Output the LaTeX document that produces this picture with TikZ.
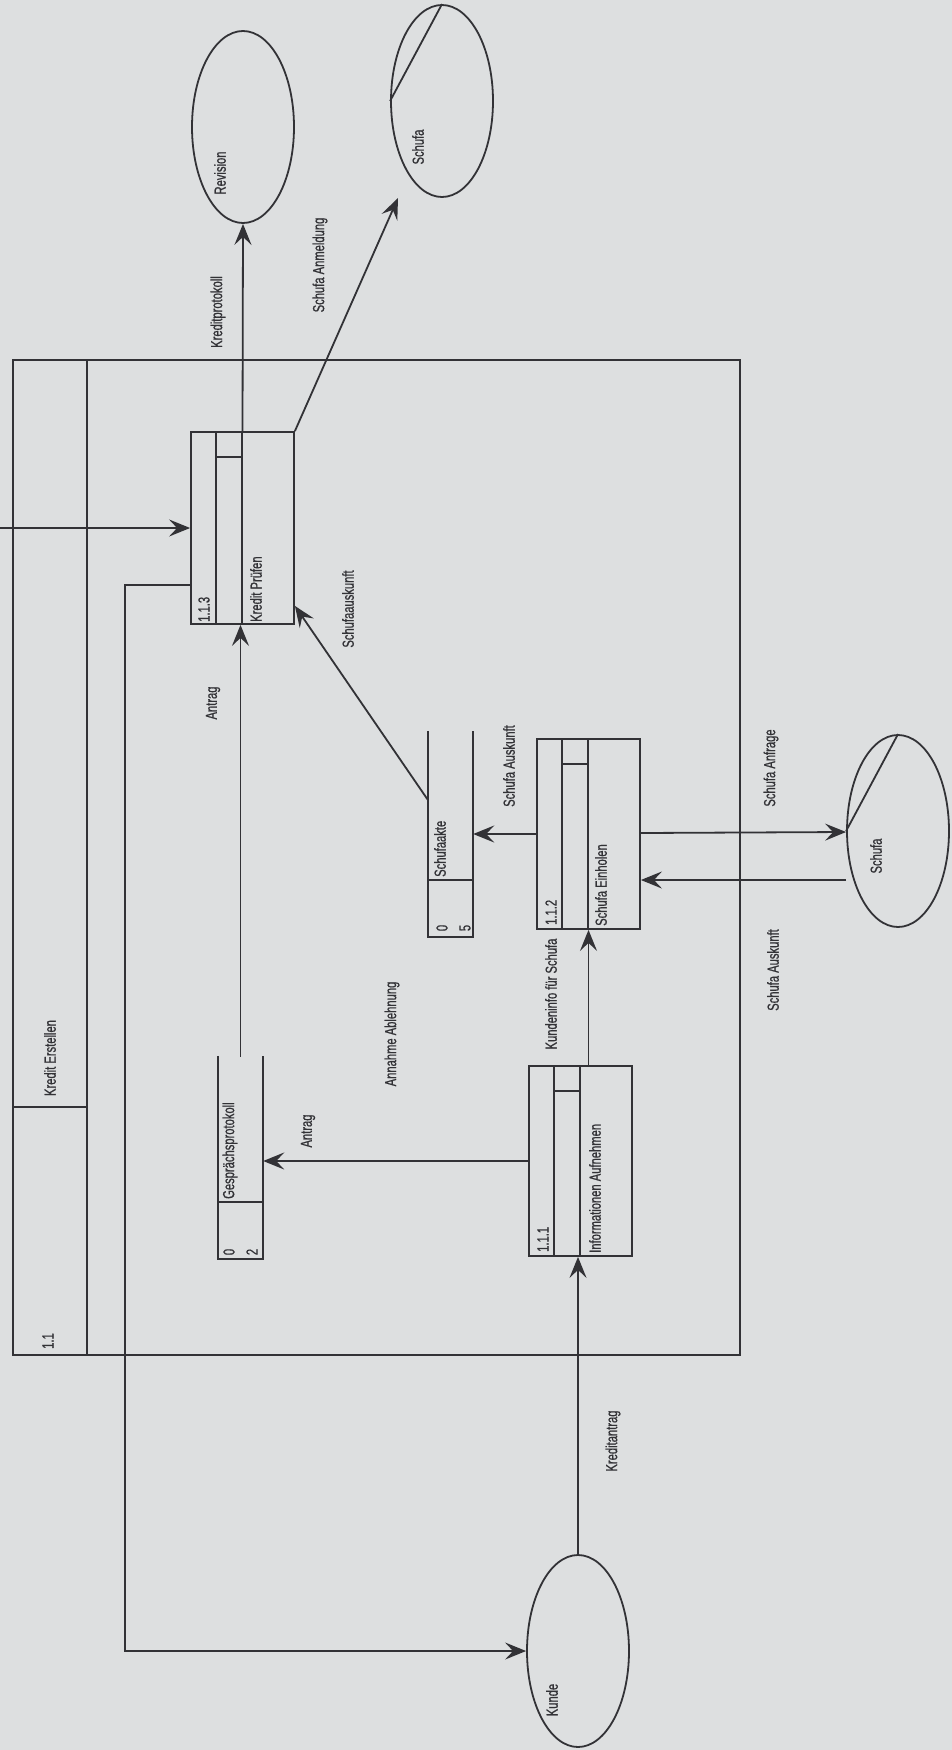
\documentclass[tikz,border=0pt]{standalone}
\usepackage{fontspec}
\setmainfont{Liberation Sans}[FakeStretch=0.7,FakeBold=0.8]
\usetikzlibrary{arrows.meta,calc,shapes.geometric}
\definecolor{paper}{RGB}{221,223,224}
\definecolor{ink}{RGB}{50,50,54}
\begin{document}
\begin{tikzpicture}[x=1pt,y=-1pt,
  line/.style={draw=ink, line width=1.8pt},
  flow/.style={line, -{Stealth[length=21pt,width=17pt,inset=8pt]}},
  lbl/.style={rotate=90, text=ink, font=\fontsize{16}{18}\selectfont, inner sep=0pt},
  proc/.style={line, minimum width=103pt, minimum height=190pt, inner sep=0pt},
  ent/.style={line, ellipse, minimum width=102pt, minimum height=192pt, inner sep=0pt},
  store/.style={minimum width=45pt, inner sep=0pt}
]
\fill[paper] (0,0) rectangle (952,1750);
\useasboundingbox (0,0) rectangle (952,1750);

% ---------- outer process 1.1 ----------
\node[line, minimum width=727pt, minimum height=995pt, inner sep=0pt] (p11) at (376.5,857.5) {};
\draw[line] ($(p11.north west)+(75,0)$) -- ($(p11.south west)+(75,0)$);
\draw[line] ($(p11.north west)+(0,748)$) -- ++(75,0);
\node[lbl] (t11) at (48,1341) {1.1};
\node[lbl] (tke) at (50,1058) {Kredit Erstellen};

% ---------- processes ----------
\node[proc, minimum height=192pt] (p113) at (242.5,528) {};
\node[proc] (p112) at (588.5,834) {};
\node[proc] (p111) at (580.5,1161) {};
\foreach \p in {p113,p112,p111}{
  \draw[line] ($(\p.north west)+(26,0)$) -- ($(\p.south west)+(26,0)$);
  \draw[line] ($(\p.north west)+(52,0)$) -- ($(\p.south west)+(52,0)$);
  \draw[line] ($(\p.north west)+(26,26)$) -- ($(\p.north west)+(52,26)$);
}
\node[lbl, anchor=west] (n113) at (204,622) {1.1.3};
\node[lbl, anchor=west] (m113) at (256,622) {Kredit Prüfen};
\node[lbl, anchor=west] (n112) at (551,925) {1.1.2};
\node[lbl, anchor=west] (m112) at (601,926) {Schufa Einholen};
\node[lbl, anchor=west] (n111) at (543,1252) {1.1.1};
\node[lbl, anchor=west] (m111) at (595,1253) {Informationen Aufnehmen};

% ---------- data stores ----------
\node[store, minimum height=206pt] (s5) at (450.5,834) {};
\node[store, minimum height=203pt] (s2) at (240.5,1157.5) {};
\foreach \s in {s5,s2}{
  \draw[line] (\s.north west) -- (\s.south west) -- (\s.south east) -- (\s.north east);
  \draw[line] ($(\s.south west)+(0,-57)$) -- ($(\s.south east)+(0,-57)$);
}
\node[lbl, anchor=west] (l5) at (440,877) {Schufaakte};
\node[lbl] (d5a) at (442,928) {0};
\node[lbl] (d5b) at (465,928) {5};
\node[lbl, anchor=west] (l2) at (230,1199) {Gesprächsprotokoll};
\node[lbl] (d2a) at (229,1252) {0};
\node[lbl] (d2b) at (252,1252) {2};

% ---------- external entities ----------
\node[ent] (rev) at (243,127) {};
\node[ent] (sch1) at (442,101) {};
\node[ent] (sch2) at (898,831) {};
\node[ent] (kun) at (578,1651) {};
\draw[line] (sch1.north) -- (sch1.west);
\draw[line] (sch2.north) -- (sch2.west);
\node[lbl] (trev) at (220,173) {Revision};
\node[lbl] (tsch1) at (418,147) {Schufa};
\node[lbl] (tsch2) at (876,856) {Schufa};
\node[lbl] (tkun) at (552,1700) {Kunde};

% ---------- data flows ----------
\coordinate (in) at (0,528);
\coordinate (sa) at (398,198);
\coordinate (sk) at ($(s5.north west)+(0,69)$);

\draw[flow] (in) -- (p113.west);
\draw[flow] (p113.north) -- (rev.south);
\draw[flow] (p113.north east) -- (sa);
\draw[flow] (sk) -- ($(p113.south east)+(0,-19)$);
\draw[flow] ($(s2.north)+(0,1)$) -- (s2.north |- p113.south);
\draw[flow] ($(p113.south west)+(0,-40)$) -- ++(-65,0) |- (kun.west);
\draw[flow] (p112.west) -- (p112.west -| s5.east);
\draw[flow] ($(p112.east)+(0,-1)$) -- ($(sch2.west)+(0,1)$);
\draw[flow] ($(sch2.west)+(0,49)$) -- ($(p112.east)+(0,46)$);
\draw[flow] (p111.north -| p112.south) -- (p112.south);
\draw[flow] (p111.west) -- (p111.west -| s2.east);
\draw[flow] (kun.north) -- (kun.north |- p111.south);

% ---------- flow labels ----------
\node[lbl] (f1) at (218,312) {Kreditprotokoll};
\node[lbl] (f2) at (320,265) {Schufa Anmeldung};
\node[lbl] (f3) at (213,703) {Antrag};
\node[lbl] (f4) at (348,609) {Schufaauskunft};
\node[lbl] (f5) at (509,766) {Schufa Auskunft};
\node[lbl] (f6) at (771,768) {Schufa Anfrage};
\node[lbl] (f7) at (773,970) {Schufa Auskunft};
\node[lbl] (f8) at (551,994) {Kundeninfo für Schufa};
\node[lbl] (f9) at (392,1034) {Annahme Ablehnung};
\node[lbl] (f10) at (308,1131) {Antrag};
\node[lbl] (f11) at (613,1441) {Kreditantrag};
\end{tikzpicture}
\end{document}
